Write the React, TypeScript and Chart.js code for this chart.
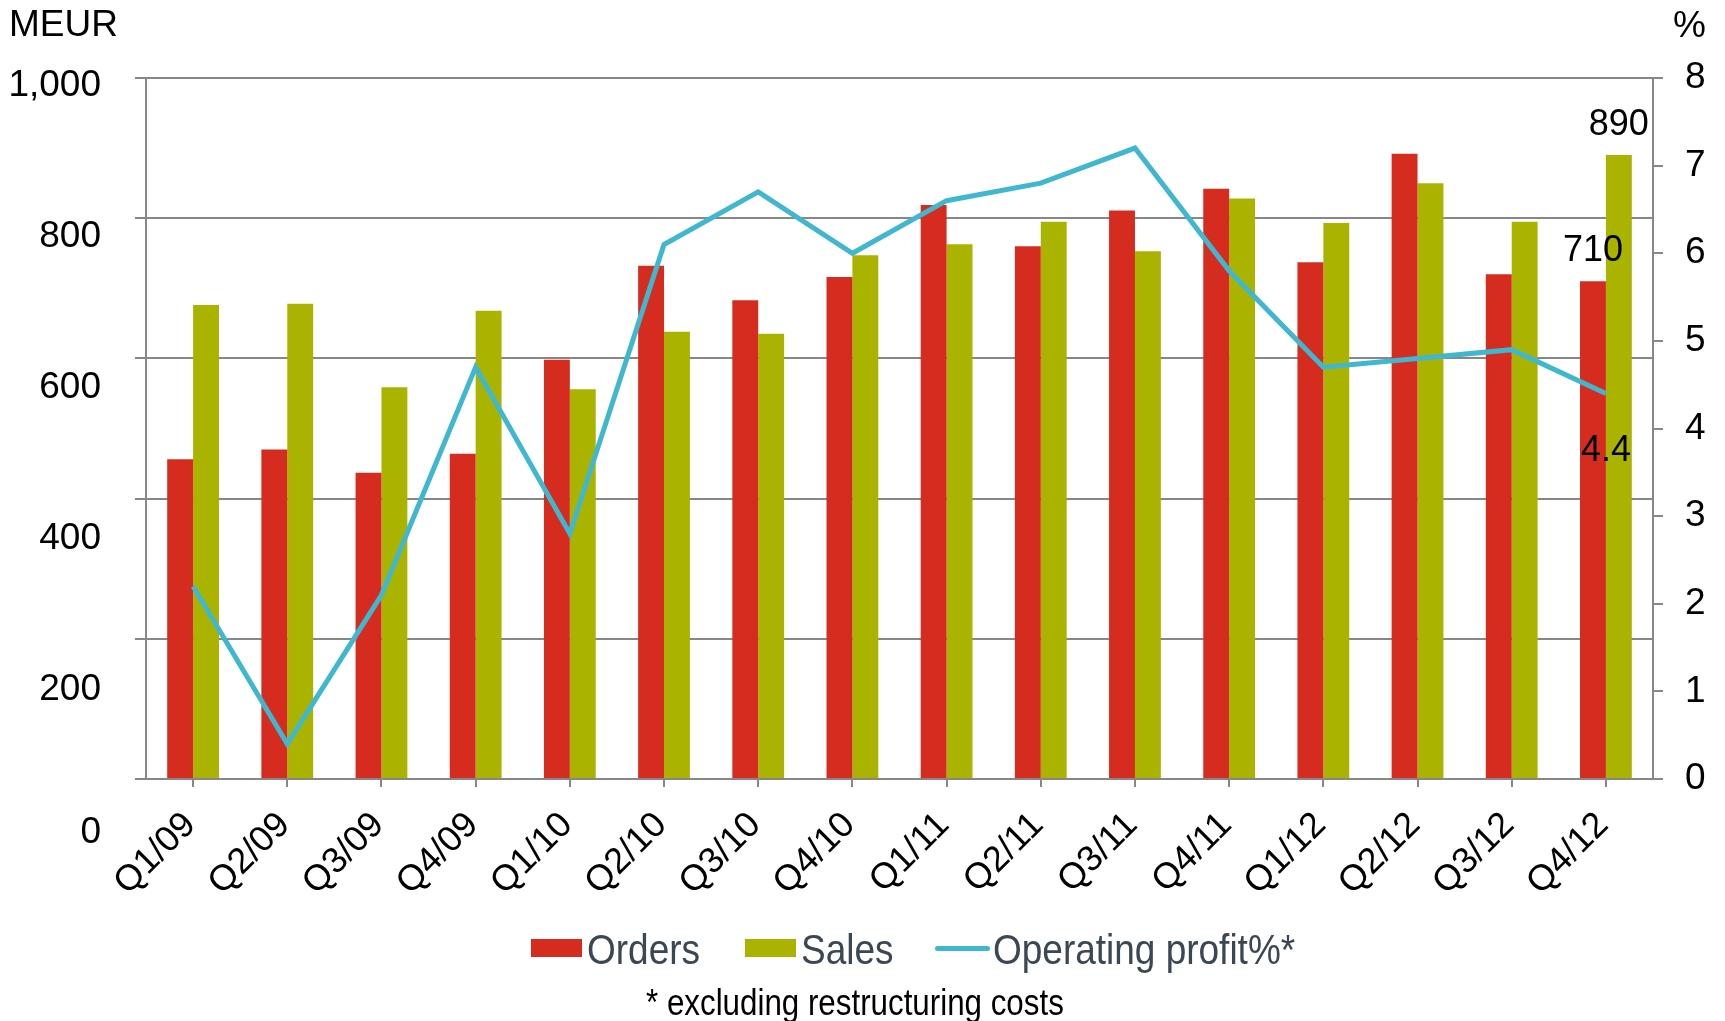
import React, { useEffect, useRef } from "react";
import { Chart, registerables } from "chart.js";

Chart.register(...registerables);

const categories = [
  "Q1/09", "Q2/09", "Q3/09", "Q4/09",
  "Q1/10", "Q2/10", "Q3/10", "Q4/10",
  "Q1/11", "Q2/11", "Q3/11", "Q4/11",
  "Q1/12", "Q2/12", "Q3/12", "Q4/12",
];
const orders = [456, 470, 437, 464, 598, 732, 683, 716, 819, 760, 811, 842, 737, 892, 720, 710];
const sales = [676, 678, 559, 668, 556, 638, 635, 747, 763, 795, 753, 828, 793, 850, 795, 890];
const operatingProfit = [2.2, 0.4, 2.1, 4.7, 2.8, 6.1, 6.7, 6.0, 6.6, 6.8, 7.2, 5.8, 4.7, 4.8, 4.9, 4.4];

const leftTickValues = [0, 200, 400, 600, 800, 1000];
const leftTickLabels = ["0", "200", "400", "600", "800", "1,000"];
const labelledIndex = 15;

const FONT = "'Liberation Sans', Arial, Helvetica, sans-serif";
const RED = "#d52c1f";
const GREEN = "#aab400";
const CYAN = "#3fb7cf";
const GRID = "#878787";
const LEGEND_TEXT = "#3b4752";

const leftLabelsPlugin = {
  id: "leftLabels",
  afterDraw(chart: any) {
    const y = chart.scales.y;
    const ctx = chart.ctx;
    ctx.save();
    ctx.font = `37px ${FONT}`;
    ctx.fillStyle = "#000";
    ctx.textAlign = "right";
    ctx.textBaseline = "middle";
    leftTickValues.forEach((v, i) => {
      const shift = Math.min(8 + 54 * (1 - v / 1000), 54);
      const py = y.getPixelForValue(v) + shift;
      ctx.fillText(leftTickLabels[i], y.right - 45, py);
    });
    ctx.restore();
  },
};

const dataLabelsPlugin = {
  id: "dataLabels",
  afterDatasetsDraw(chart: any) {
    const ctx = chart.ctx;
    const o = chart.getDatasetMeta(0).data[labelledIndex];
    const s = chart.getDatasetMeta(1).data[labelledIndex];
    const l = chart.getDatasetMeta(2).data[labelledIndex];
    ctx.save();
    ctx.font = `36px ${FONT}`;
    ctx.fillStyle = "#000";
    ctx.textAlign = "center";
    ctx.textBaseline = "middle";
    ctx.fillText(String(orders[labelledIndex]), o.x, o.y - 30);
    ctx.fillText(String(sales[labelledIndex]), s.x, s.y - 30);
    ctx.fillText(operatingProfit[labelledIndex].toFixed(1), l.x, l.y + 58);
    ctx.restore();
  },
};

export default function App() {
  const ref = useRef<HTMLCanvasElement>(null);

  useEffect(() => {
    const chart = new Chart(ref.current as HTMLCanvasElement, {
      type: "bar",
      data: {
        labels: categories,
        datasets: [
          {
            label: "Orders",
            data: orders,
            backgroundColor: RED,
            yAxisID: "y",
            order: 1,
            categoryPercentage: 0.55,
            barPercentage: 1.0,
          },
          {
            label: "Sales",
            data: sales,
            backgroundColor: GREEN,
            yAxisID: "y",
            order: 1,
            categoryPercentage: 0.55,
            barPercentage: 1.0,
          },
          {
            type: "line",
            label: "Operating profit%*",
            data: operatingProfit,
            borderColor: CYAN,
            backgroundColor: CYAN,
            borderWidth: 5,
            pointRadius: 0,
            tension: 0,
            yAxisID: "y1",
            order: 0,
          } as any,
        ],
      },
      options: {
        animation: false,
        responsive: false,
        devicePixelRatio: 1,
        layout: { padding: { top: 78, left: 0, right: 0, bottom: 0 } },
        plugins: {
          legend: { display: false },
          tooltip: { enabled: false },
        },
        scales: {
          x: {
            grid: {
              display: true,
              drawOnChartArea: false,
              drawTicks: true,
              tickLength: 8,
              offset: false,
              color: GRID,
              lineWidth: 2,
            },
            border: { display: true, color: GRID, width: 2 },
            ticks: {
              autoSkip: false,
              minRotation: 45,
              maxRotation: 45,
              color: "#000",
              font: { family: FONT, size: 36, lineHeight: 1.2 },
              padding: 17,
              labelOffset: -3,
            },
            afterFit(scale: any) {
              scale.height = 1021 - 779;
            },
          },
          y: {
            position: "left",
            min: 0,
            max: 1000,
            ticks: { stepSize: 200, display: false },
            grid: {
              color: GRID,
              lineWidth: 2,
              drawTicks: true,
              tickLength: 11,
            },
            border: { display: true, color: GRID, width: 2 },
            afterFit(scale: any) {
              scale.width = 146;
            },
          },
          y1: {
            position: "right",
            min: 0,
            max: 8,
            ticks: {
              stepSize: 1,
              color: "#000",
              font: { family: FONT, size: 37 },
              padding: 22,
            },
            grid: {
              drawOnChartArea: false,
              drawTicks: true,
              tickLength: 10,
              color: GRID,
              lineWidth: 2,
            },
            border: { display: true, color: GRID, width: 2 },
            afterFit(scale: any) {
              scale.width = 1725 - 1653;
            },
          },
        },
      },
      plugins: [leftLabelsPlugin, dataLabelsPlugin],
    });
    return () => chart.destroy();
  }, []);

  const legendText: React.CSSProperties = {
    position: "absolute",
    top: 928,
    fontSize: 43,
    lineHeight: "43px",
    color: LEGEND_TEXT,
    transform: "scaleX(0.86)",
    transformOrigin: "left center",
    whiteSpace: "nowrap",
  };

  return (
    <div
      style={{
        position: "fixed",
        left: 0,
        top: 0,
        width: 1725,
        height: 1021,
        background: "#fff",
        fontFamily: FONT,
        overflow: "hidden",
      }}
    >
      <canvas
        ref={ref}
        width={1725}
        height={1021}
        style={{ position: "absolute", left: 0, top: 0, width: 1725, height: 1021 }}
      />
      <div style={{ position: "absolute", left: 9, top: 5, fontSize: 37, lineHeight: "37px", color: "#000" }}>
        MEUR
      </div>
      <div style={{ position: "absolute", left: 1673, top: 6, fontSize: 37, lineHeight: "37px", color: "#000" }}>
        %
      </div>

      <div style={{ position: "absolute", left: 531, top: 939, width: 51, height: 18, background: RED }} />
      <div style={{ ...legendText, left: 587 }}>Orders</div>
      <div style={{ position: "absolute", left: 745, top: 939, width: 51, height: 18, background: GREEN }} />
      <div style={{ ...legendText, left: 801 }}>Sales</div>
      <div
        style={{
          position: "absolute",
          left: 935,
          top: 946,
          width: 55,
          height: 5,
          borderRadius: 3,
          background: CYAN,
        }}
      />
      <div style={{ ...legendText, left: 993 }}>Operating profit%*</div>

      <div
        style={{
          position: "absolute",
          left: 646,
          top: 985,
          fontSize: 36,
          lineHeight: "36px",
          color: "#000",
          transform: "scaleX(0.87)",
          transformOrigin: "left center",
          whiteSpace: "nowrap",
        }}
      >
        * excluding restructuring costs
      </div>
    </div>
  );
}
